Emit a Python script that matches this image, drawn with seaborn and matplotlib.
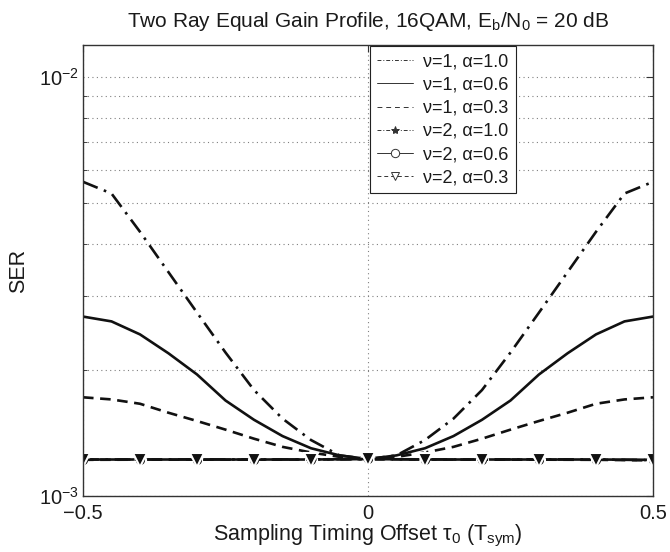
import numpy as np
import pandas as pd
import matplotlib
matplotlib.use("Agg")
import matplotlib.pyplot as plt
import seaborn as sns
from matplotlib.lines import Line2D
from matplotlib.ticker import LogLocator, NullFormatter, FixedLocator

# ---------------- data ----------------
tau = [-0.5, -0.45, -0.4, -0.35, -0.3, -0.25, -0.2, -0.15, -0.1, -0.05, 0.0,
       0.05, 0.1, 0.15, 0.2, 0.25, 0.3, 0.35, 0.4, 0.45, 0.5]
ser_v1_a10 = [5.62e-3, 5.27e-3, 4.27e-3, 3.42e-3, 2.74e-3, 2.20e-3, 1.79e-3, 1.53e-3, 1.36e-3, 1.25e-3, 1.225e-3,
              1.25e-3, 1.36e-3, 1.53e-3, 1.79e-3, 2.20e-3, 2.74e-3, 3.42e-3, 4.27e-3, 5.27e-3, 5.62e-3]
ser_v1_a06 = [2.68e-3, 2.61e-3, 2.43e-3, 2.19e-3, 1.95e-3, 1.69e-3, 1.52e-3, 1.39e-3, 1.30e-3, 1.25e-3, 1.225e-3,
              1.25e-3, 1.30e-3, 1.39e-3, 1.52e-3, 1.69e-3, 1.95e-3, 2.19e-3, 2.43e-3, 2.61e-3, 2.68e-3]
ser_v1_a03 = [1.72e-3, 1.70e-3, 1.66e-3, 1.58e-3, 1.51e-3, 1.44e-3, 1.37e-3, 1.31e-3, 1.27e-3, 1.24e-3, 1.225e-3,
              1.24e-3, 1.27e-3, 1.31e-3, 1.37e-3, 1.44e-3, 1.51e-3, 1.58e-3, 1.66e-3, 1.70e-3, 1.72e-3]

tau2 = [-0.5, -0.4, -0.3, -0.2, -0.1, 0.0, 0.1, 0.2, 0.3, 0.4, 0.5]
ser_v2_a10 = [1.222e-3, 1.222e-3, 1.223e-3, 1.222e-3, 1.223e-3, 1.225e-3, 1.223e-3, 1.222e-3, 1.223e-3, 1.222e-3, 1.218e-3]
ser_v2_a06 = [1.222e-3, 1.222e-3, 1.222e-3, 1.222e-3, 1.222e-3, 1.225e-3, 1.222e-3, 1.222e-3, 1.222e-3, 1.222e-3, 1.220e-3]
ser_v2_a03 = [1.220e-3, 1.221e-3, 1.221e-3, 1.221e-3, 1.222e-3, 1.225e-3, 1.222e-3, 1.221e-3, 1.221e-3, 1.220e-3, 1.216e-3]

labels = ["ν=1, α=1.0", "ν=1, α=0.6", "ν=1, α=0.3",
          "ν=2, α=1.0", "ν=2, α=0.6", "ν=2, α=0.3"]
title = "Two Ray Equal Gain Profile, 16QAM, E$_\\mathregular{b}$/N$_\\mathregular{0}$ = 20 dB"
xlabel = "Sampling Timing Offset τ$_\\mathregular{0}$ (T$_\\mathregular{sym}$)"
ylabel = "SER"
xticks = [-0.5, 0.0, 0.5]
xticklabels = ["\u22120.5", "0", "0.5"]

# ---------------- style ----------------
sns.set_style("white")
plt.rcParams["font.family"] = ["Liberation Sans", "DejaVu Sans"]
plt.rcParams["mathtext.fontset"] = "custom"
plt.rcParams["mathtext.rm"] = "Liberation Sans"
plt.rcParams["mathtext.it"] = "Liberation Sans:italic"
plt.rcParams["mathtext.bf"] = "Liberation Sans:bold"
TXT = "#1a1a1a"

fig = plt.figure(figsize=(6.70, 5.52), dpi=100)
ax = fig.add_axes([83 / 670, 1 - 496 / 552, (653 - 83) / 670, (496 - 45) / 552])

lw = 1.9
specs = [
    (tau, ser_v1_a10, dict(linestyle=(0, (6, 2.5, 1, 2.5)))),
    (tau, ser_v1_a06, dict(linestyle="-")),
    (tau, ser_v1_a03, dict(linestyle=(0, (4, 2.5)))),
    (tau2, ser_v2_a10, dict(linestyle=(0, (6, 2.5, 1, 2.5)), marker="*", markersize=11, mew=1.5)),
    (tau2, ser_v2_a06, dict(linestyle="-", marker="o", markersize=8, mew=1.5, mfc="#111111")),
    (tau2, ser_v2_a03, dict(linestyle=(0, (4, 2.5)), marker="v", markersize=10, mew=1.5, mfc="#111111")),
]
for x, y, kw in specs:
    df = pd.DataFrame({"tau": x, "ser": y})
    sns.lineplot(data=df, x="tau", y="ser", ax=ax, color="#111111", lw=lw, **kw)

ax.set_yscale("log")
ax.set_xlim(-0.5, 0.5)
ax.set_ylim(1e-3, 10 ** (-2 + 32 / 420))
ax.xaxis.set_major_locator(FixedLocator(xticks))
ax.set_xticklabels(xticklabels)
ax.yaxis.set_major_locator(LogLocator(base=10, numticks=10))
ax.yaxis.set_minor_locator(LogLocator(base=10, subs=np.arange(2, 10), numticks=10))
ax.yaxis.set_minor_formatter(NullFormatter())

ax.grid(True, which="major", axis="both", linestyle=(0, (1, 3)), color="#808080", lw=0.8)
ax.grid(True, which="minor", axis="y", linestyle=(0, (1, 3)), color="#808080", lw=0.8)

ax.tick_params(which="major", direction="in", length=5, width=0.8, top=True, right=True,
               labelsize=14.5, colors="#333333", labelcolor=TXT, pad=3)
ax.tick_params(axis="x", which="major", pad=6)
ax.tick_params(which="minor", direction="in", length=3, width=0.6, top=False, right=True, left=True)
for s in ax.spines.values():
    s.set_color("#333333")
    s.set_linewidth(1.0)

ax.set_title(title, fontsize=15, pad=13, color=TXT)
ax.set_xlabel(xlabel, fontsize=15.5, labelpad=-0.5, color=TXT)
ax.set_ylabel(ylabel, fontsize=15.5, labelpad=7, color=TXT)

leg_specs = [
    dict(linestyle=(0, (4, 2, 1, 2))),
    dict(linestyle="-"),
    dict(linestyle=(0, (5, 4))),
    dict(linestyle=(0, (4, 2, 1, 2)), marker="*", markersize=6),
    dict(linestyle="-", marker="o", markersize=6, mfc="white"),
    dict(linestyle=(0, (4, 3)), marker="v", markersize=6, mfc="white"),
]
handles = [Line2D([], [], color="#333333", lw=0.7, mew=0.7, **k) for k in leg_specs]
leg = ax.legend(handles, labels, loc="upper left", bbox_to_anchor=(0.5035, 0.997),
                fontsize=13, frameon=True, fancybox=False, framealpha=1,
                edgecolor="#222222", handlelength=2.0, handletextpad=0.55,
                labelspacing=0.34, borderpad=0.4, borderaxespad=0)
leg.get_frame().set_linewidth(0.8)
for t in leg.get_texts():
    t.set_color(TXT)

fig.savefig("out.png", dpi=100)
